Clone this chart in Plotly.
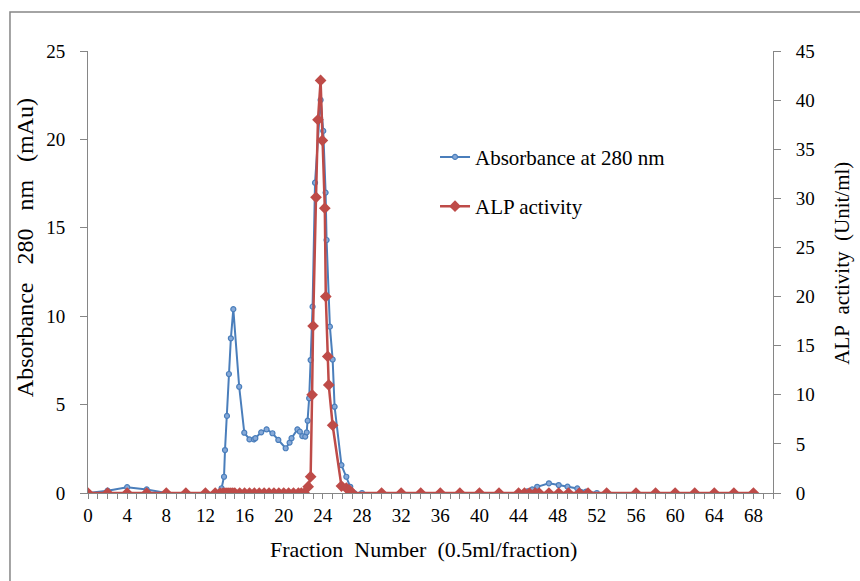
import plotly.graph_objects as go

# Fraction numbers and absorbance at 280 nm (mAu)
fraction_abs = [0, 2, 4, 6, 8, 10, 12, 13, 13.65, 13.9, 14.0, 14.2, 14.4, 14.6, 14.85,
                15.45, 15.97, 16.5, 16.95, 17.1, 17.7, 18.25, 18.85, 19.45, 20.2, 20.6,
                20.8, 21.4, 21.65, 21.9, 22.2, 22.35, 22.45, 22.6, 22.75, 22.95, 23.2,
                23.77, 24.04, 24.28, 24.38, 24.72, 25.0, 25.2, 25.9, 26.4, 26.8, 27.2,
                28, 30, 32, 34, 36, 38, 40, 42, 44, 44.9, 45.4, 45.9, 47.1, 48.1, 49.0,
                50.0, 50.9, 52, 53, 56, 58, 60, 62, 64, 66, 68]
absorbance = [0, 0.13, 0.33, 0.2, 0, 0, 0, 0, 0.27, 0.92, 2.43, 4.36, 6.73, 8.75, 10.4,
              6.01, 3.41, 3.03, 3.03, 3.1, 3.43, 3.6, 3.38, 3.0, 2.53, 2.85,
              3.1, 3.6, 3.47, 3.22, 3.19, 3.43, 4.09, 5.36, 7.52, 10.54, 17.55,
              22.23, 20.48, 16.99, 14.31, 9.41, 7.55, 4.88, 1.58, 0.92, 0.35, 0,
              0, 0, 0, 0, 0, 0, 0, 0, 0, 0.1, 0.2, 0.35, 0.55, 0.45, 0.36,
              0.26, 0.08, 0, 0, 0, 0, 0, 0, 0, 0, 0]

# Fraction numbers and ALP activity (Unit/ml)
fraction_alp = [0, 2, 4, 6, 8, 10, 12, 13, 13.5, 13.8, 14.0, 14.2, 14.4, 14.6, 14.8,
                15.0, 15.5, 16.0, 16.5, 17.0, 17.5, 18.0, 18.5, 19.0, 19.5, 20.0,
                20.5, 21.0, 21.5, 21.8, 22.1, 22.5, 22.75, 22.9, 23.0, 23.3, 23.5,
                23.77, 23.95, 24.2, 24.3, 24.5, 24.6, 25.0, 25.9, 26.4, 26.7, 27.0,
                30, 32, 34, 36, 38, 40, 42, 44, 44.6, 45.1, 45.7, 46.1, 47.1, 48.1,
                49.1, 50.2, 51.1, 53, 56, 58, 60, 62, 64, 66, 68]
alp_activity = [0, 0, 0, 0, 0, 0, 0, 0, 0, 0, 0, 0, 0, 0, 0,
                0, 0, 0, 0, 0, 0, 0, 0, 0, 0, 0,
                0, 0, 0, 0, 0, 0.64, 1.66, 10.0, 17.0, 30.1, 38.0,
                42.0, 35.9, 29.0, 20.0, 13.9, 11.0, 6.9, 0.7, 0.5, 0.3, 0,
                0, 0, 0, 0, 0, 0, 0, 0, 0, 0, 0, 0, 0, 0,
                0, 0, 0, 0, 0, 0, 0, 0, 0, 0, 0]

x_ticks = list(range(0, 69, 4))

BLUE = "#4A7EBB"
RED = "#BE4B48"
AXIS = "#868686"
FONT = "Liberation Serif"
SP = "\u00a0\u00a0"

fig = go.Figure()
fig.add_trace(go.Scatter(
    x=fraction_abs, y=absorbance, name="Absorbance at 280 nm",
    mode="lines+markers", legendgroup="a",
    line=dict(color=BLUE, width=2),
    marker=dict(symbol="circle", size=5, color="#86A9D8",
                line=dict(color=BLUE, width=1.2)),
))
fig.add_trace(go.Scatter(
    x=fraction_alp, y=alp_activity, name="ALP activity", yaxis="y2",
    mode="lines+markers", legendgroup="b",
    line=dict(color=RED, width=2.5),
    marker=dict(symbol="diamond", size=9, color=RED),
))

tickfont = dict(family=FONT, size=19, color="black")

fig.update_layout(
    width=860, height=581,
    margin=dict(l=88, r=87, t=51, b=88),
    paper_bgcolor="white", plot_bgcolor="white",
    font=dict(family=FONT, color="black"),
    showlegend=True,
    legend=dict(x=0.5066, xanchor="left", y=0.806, yanchor="top",
                font=dict(family=FONT, size=21), tracegroupgap=19,
                bgcolor="rgba(0,0,0,0)", itemwidth=30),
    xaxis=dict(range=[0, 70], tickvals=x_ticks, ticks="outside", ticklen=5,
               tickcolor=AXIS, showline=True, linecolor=AXIS, linewidth=1,
               showgrid=False, zeroline=False, tickfont=tickfont,
               minor=dict(dtick=1, tick0=0, ticks="outside", ticklen=5,
                          tickcolor=AXIS, showgrid=False)),
    yaxis=dict(range=[0, 25], dtick=5, ticks="outside", ticklen=7, tickcolor=AXIS,
               showline=True, linecolor=AXIS, linewidth=1, showgrid=False,
               zeroline=False, tickfont=tickfont, ticklabelstandoff=11),
    yaxis2=dict(range=[0, 45], dtick=5, ticks="outside", ticklen=7, tickcolor=AXIS,
                showline=True, linecolor=AXIS, linewidth=1, showgrid=False,
                zeroline=False, tickfont=tickfont, overlaying="y", side="right",
                ticklabelstandoff=11),
)

# Axis titles
fig.add_annotation(text=f"Fraction{SP}Number{SP}(0.5ml/fraction)", xref="paper", yref="paper",
                   x=0.49, y=-0.095, xanchor="center", yanchor="top", showarrow=False,
                   font=dict(family=FONT, size=22))
fig.add_annotation(text=f"Absorbance{SP}\u00a0280{SP}\u00a0nm{SP}\u00a0(mAu)", xref="paper", yref="paper",
                   x=-0.07, y=0.554, xanchor="right", yanchor="middle", textangle=-90,
                   showarrow=False, font=dict(family=FONT, size=24))
fig.add_annotation(text=f"ALP{SP}activity{SP}(Unit/ml)", xref="paper", yref="paper",
                   x=1.081, y=0.52, xanchor="left", yanchor="middle", textangle=-90,
                   showarrow=False, font=dict(family=FONT, size=21))

# Chart frame
fig.add_shape(type="rect", xref="paper", yref="paper",
              x0=-0.1139, y0=-0.25, x1=1.2, y1=1.0882,
              line=dict(color=AXIS, width=1.5), fillcolor="rgba(0,0,0,0)", layer="below")

fig.write_html("out.html")
